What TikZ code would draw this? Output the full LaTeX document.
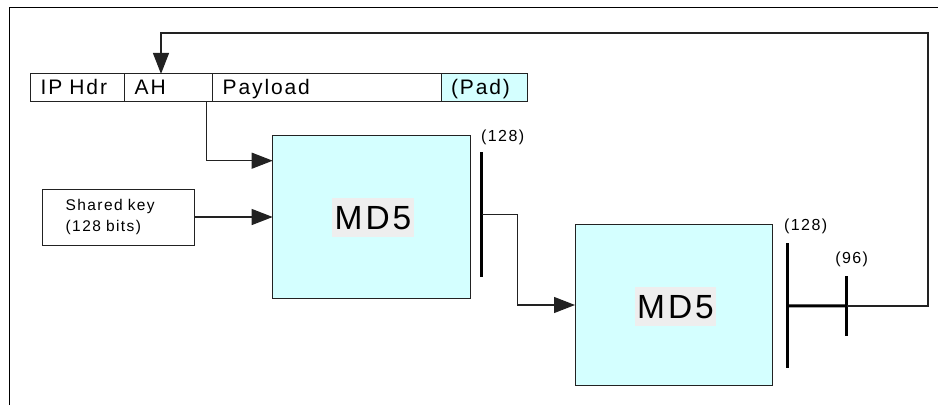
\documentclass[tikz,border=0pt]{standalone}
\usepackage{fontspec}
\setmainfont[LetterSpace=9]{Liberation Sans}
\usepackage{tikz}
\usetikzlibrary{arrows.meta, positioning}

\definecolor{mdcyan}{HTML}{D4FFFF}
\definecolor{mdgray}{HTML}{EEEEEE}
\definecolor{edge}{HTML}{222222}

\begin{document}
\begin{tikzpicture}[x=1pt, y=-1pt,
      field/.style={draw=edge, line width=1pt, rectangle, outer sep=0pt, minimum height=27.5pt,
          inner xsep=10pt, inner ysep=0pt, align=left, text height=17pt, text depth=3.8pt,
          anchor=west, font=\fontsize{21}{24}\selectfont},
      keybox/.style={draw=edge, line width=1pt, rectangle, minimum width=152pt, minimum height=56pt,
          text width=105.2pt, inner xsep=23.4pt, align=left, font=\fontsize{15.5}{20.4}\selectfont},
      md5box/.style={draw=edge, line width=1pt, rectangle, fill=mdcyan, outer sep=0pt},
      md5txt/.style={fill=mdgray, inner xsep=2.5pt, inner ysep=0pt, minimum height=39pt,
          text height=24pt, text depth=0pt, font=\fontsize{33.5}{36}\selectfont},
      bar/.style={fill=black, inner sep=0pt, outer sep=0pt, minimum width=3pt},
      num/.style={inner sep=0pt, font=\fontsize{16}{18}\selectfont},
      arr/.style={-{Triangle[length=21pt, width=16pt]}, line width=1.2pt, draw=edge},
      heavy/.style={line width=3pt},
    ]
    \useasboundingbox (0,0) rectangle (938,405);

    % frame
    \draw[line width=1pt] (9.3,405) -- (9.3,7.3) -- (938,7.3);

    % packet
    \node[field, text width=74pt] (hdr) at (30.7,87.7) {IP Hdr};
    \node[field, text width=68pt, right=0pt of hdr] (ah) {AH};
    \node[field, text width=208.3pt, right=0pt of ah] (payload) {Payload};
    \node[field, text width=66.7pt, fill=mdcyan, right=0pt of payload] (pad) {(Pad)};

    \node[keybox] (key) at (118.3,217) {Shared key\\(128 bits)};

    % hash stages
    \node[md5box, minimum width=198pt, minimum height=162.6pt] (md5a) at (371.7,217) {};
    \node[md5txt] (md5atxt) at (373,217.7) {MD5};
    \node[md5box, minimum width=197.7pt, minimum height=161.4pt] (md5b) at (673.85,305) {};
    \node[md5txt] (md5btxt) at (675.5,306.7) {MD5};

    \node[bar, minimum height=125pt] (bar1) at (481.7,214.2) {};
    \node[bar, minimum height=125pt] (bar2) at (787.7,305.8) {};
    \node[bar, minimum height=60pt] (bar3) at (846.7,306) {};

    \node[num] (n1) at (502.7,137) {(128)};
    \node[num] (n2) at (805.7,226.7) {(128)};
    \node[num] (n3) at (851.7,259.3) {(96)};

    \draw[arr] ([xshift=-6pt]ah.south east) |- ([yshift=56.3pt]md5a.west);
    \draw[arr] (key) -- (md5a);
    \draw[arr] (bar1.center) -- ++(36,0) |- (md5b.west);
    \draw[heavy] (bar2.center) -- (bar3.center);

    \coordinate (ret) at (928,33);
    \draw[arr] (bar3.center) -| (ret) -| ([xshift=-7.7pt]ah.north);

  \end{tikzpicture}
\end{document}
